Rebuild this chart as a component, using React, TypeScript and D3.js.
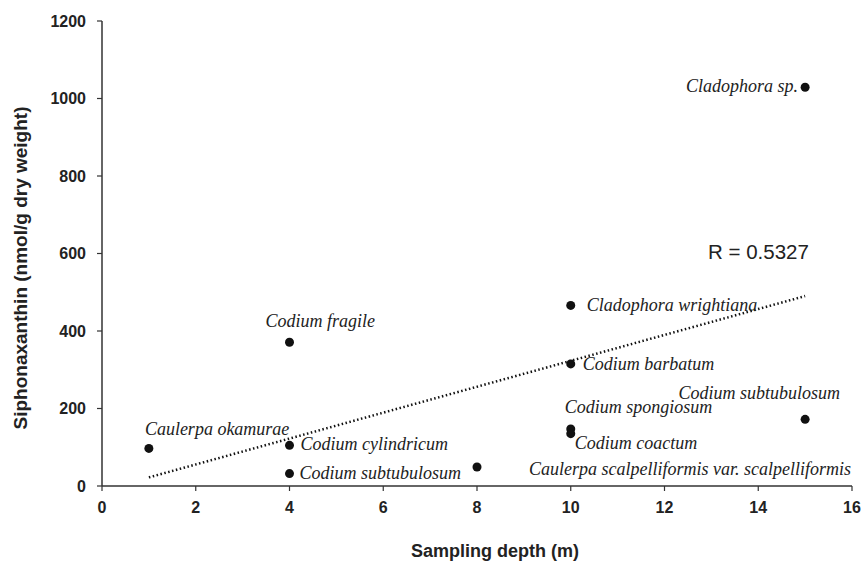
import React from "react";
import * as d3 from "d3";

const species = [
  "Caulerpa okamurae",
  "Codium cylindricum",
  "Codium subtubulosum",
  "Codium fragile",
  "Caulerpa scalpelliformis var. scalpelliformis",
  "Codium barbatum",
  "Cladophora wrightiana",
  "Codium spongiosum",
  "Codium coactum",
  "Codium subtubulosum",
  "Cladophora sp.",
];
const depth = [1, 4, 4, 4, 8, 10, 10, 10, 10, 15, 15];
const siphonaxanthin = [97, 105, 32, 371, 49, 315, 466, 147, 135, 172, 1029];

const xTicks = [0, 2, 4, 6, 8, 10, 12, 14, 16];
const yTicks = [0, 200, 400, 600, 800, 1000, 1200];

// label offsets in pixels relative to the point (layout only)
const labelOffsets: [number, number, string][] = [
  [-4, -13, "start"],
  [11, 5, "start"],
  [10, 5, "start"],
  [-24, -15, "start"],
  [52, 8, "start"],
  [12, 6, "start"],
  [16, 6, "start"],
  [-6, -16, "start"],
  [4, 15, "start"],
  [35, -20, "end"],
  [-7, 5, "end"],
];

const W = 864;
const H = 562;

export default function App() {
  const x = d3.scaleLinear().domain([0, 16]).range([102, 852]);
  const y = d3.scaleLinear().domain([0, 1200]).range([486, 21]);

  const n = depth.length;
  const mx = d3.mean(depth)!;
  const my = d3.mean(siphonaxanthin)!;
  let sxy = 0, sxx = 0;
  for (let i = 0; i < n; i++) {
    sxy += (depth[i] - mx) * (siphonaxanthin[i] - my);
    sxx += (depth[i] - mx) ** 2;
  }
  const slope = sxy / sxx;
  const icpt = my - slope * mx;
  const x0 = d3.min(depth)!;
  const x1 = d3.max(depth)!;
  const line = d3.line<number>().x((d) => x(d)).y((d) => y(icpt + slope * d));

  const sans = "Liberation Sans, Arial, sans-serif";
  const serif = "Liberation Serif, Times New Roman, serif";
  const axisColor = "#333";

  return (
    <svg
      width={W}
      height={H}
      style={{ position: "absolute", left: 0, top: 0, background: "#fff" }}
    >
      {/* axes */}
      <line x1={x(0)} x2={x(16)} y1={y(0)} y2={y(0)} stroke={axisColor} strokeWidth={1.5} />
      <line x1={x(0)} x2={x(0)} y1={y(0)} y2={y(1200)} stroke={axisColor} strokeWidth={1.5} />
      {xTicks.map((t) => (
        <g key={"x" + t}>
          <line x1={x(t)} x2={x(t)} y1={y(0)} y2={y(0) + 5} stroke={axisColor} strokeWidth={1.2} />
          <text x={x(t)} y={513} textAnchor="middle" fontFamily={sans} fontWeight="bold" fontSize={16} fill="#222">
            {t}
          </text>
        </g>
      ))}
      {yTicks.map((t) => (
        <g key={"y" + t}>
          <line x1={x(0) - 5} x2={x(0)} y1={y(t)} y2={y(t)} stroke={axisColor} strokeWidth={1.2} />
          <text x={86} y={y(t) + 5.5} textAnchor="end" fontFamily={sans} fontWeight="bold" fontSize={16} fill="#222">
            {t}
          </text>
        </g>
      ))}
      <text x={495} y={557} textAnchor="middle" fontFamily={sans} fontWeight="bold" fontSize={18} fill="#222">
        Sampling depth (m)
      </text>
      <text
        transform={`translate(27,268) rotate(-90)`}
        textAnchor="middle"
        fontFamily={sans}
        fontWeight="bold"
        fontSize={19}
        fill="#222"
      >
        Siphonaxanthin (nmol/g dry weight)
      </text>

      {/* trend line */}
      <path
        d={line([x0, x1])!}
        fill="none"
        stroke="#111"
        strokeWidth={2.5}
        strokeDasharray="1.5,2.5"
      />

      {/* points */}
      {depth.map((d, i) => (
        <circle key={"p" + i} cx={x(d)} cy={y(siphonaxanthin[i])} r={4.5} fill="#111" />
      ))}

      {/* labels */}
      {species.map((s, i) => {
        const [dx, dy, anchor] = labelOffsets[i];
        return (
          <text
            key={"l" + i}
            x={x(depth[i]) + dx}
            y={y(siphonaxanthin[i]) + dy}
            textAnchor={anchor as any}
            fontFamily={serif}
            fontStyle="italic"
            fontSize={18}
            fill="#222"
          >
            {s}
          </text>
        );
      })}

      <text x={708} y={259} fontFamily={sans} fontSize={20.5} fill="#222">
        R = 0.5327
      </text>
    </svg>
  );
}
